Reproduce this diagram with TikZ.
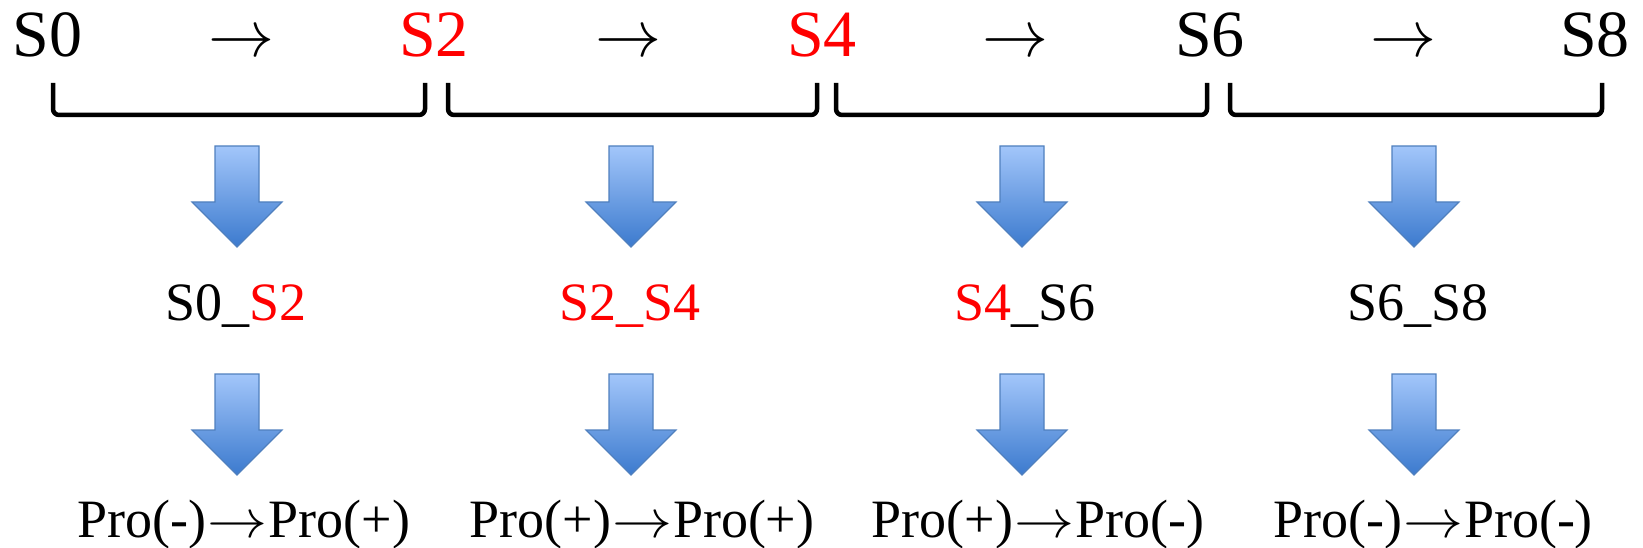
\documentclass[tikz,border=0pt]{standalone}
\usepackage{fontspec}
\setmainfont{Liberation Serif}
\definecolor{sred}{RGB}{255,0,0}
\definecolor{arrtop}{RGB}{162,198,250}
\definecolor{arrbot}{RGB}{60,122,206}
\definecolor{arrline}{RGB}{80,128,190}
\newcommand\blockdown[2]{%
  \shadedraw[blockarrow] ({#1-22},{#2}) -- ({#1+22},{#2}) -- ({#1+22},{#2+56}) -- ({#1+45},{#2+56}) -- ({#1},{#2+101}) -- ({#1-45},{#2+56}) -- ({#1-22},{#2+56}) -- cycle;}
\newcommand\toparr{\scalebox{6.6}{\fontsize{10}{12}\selectfont$\rightarrow$}}
\newcommand\parr{\kern1pt\scalebox{6}[5.4]{\fontsize{10}{12}\selectfont$\rightarrow$}\kern1pt}
\begin{document}
\begin{tikzpicture}[x=1pt,y=-1pt,
  big/.style={anchor=base,inner sep=0pt,font=\fontsize{66}{70}\selectfont},
  mid/.style={anchor=base,inner sep=0pt,font=\fontsize{54}{60}\selectfont},
  brk/.style={line width=4.5pt,rounded corners=6pt},
  blockarrow/.style={top color=arrtop,bottom color=arrbot,draw=arrline,line width=1.2pt}]
\useasboundingbox (0,0) rectangle (1643,548);
% top row
\node[big] (s0) at (47.5,57) {S0};
\node[big] (a1) at (241,57) {\toparr};
\node[big,text=sred] (s2) at (434,57) {S2};
\node[big] (a2) at (628,57) {\toparr};
\node[big,text=sred] (s4) at (822,57) {S4};
\node[big] (a3) at (1015,57) {\toparr};
\node[big] (s6) at (1210,57) {S6};
\node[big] (a4) at (1403,57) {\toparr};
\node[big] (s8) at (1595,57) {S8};
% brackets
\draw[brk] (53,83) -- (53,115) -- (425,115) -- (425,83);
\draw[brk] (448,83) -- (448,115) -- (817,115) -- (817,83);
\draw[brk] (836,83) -- (836,115) -- (1207,115) -- (1207,83);
\draw[brk] (1230,83) -- (1230,115) -- (1602,115) -- (1602,83);
% block arrows
\blockdown{237}{146}
\blockdown{631}{146}
\blockdown{1022}{146}
\blockdown{1414}{146}
\blockdown{237}{374}
\blockdown{631}{374}
\blockdown{1022}{374}
\blockdown{1414}{374}
% middle labels
\node[mid] (m1) at (236,320) {S0\_\textcolor{sred}{S2}};
\node[mid] (m2) at (630,320) {\textcolor{sred}{S2\_S4}};
\node[mid] (m3) at (1025,320) {\textcolor{sred}{S4}\_S6};
\node[mid] (m4) at (1418,320) {S6\_S8};
% bottom labels
\node[mid] (p1) at (244,537) {Pro(-)\parr Pro(+)};
\node[mid] (p2) at (642,537) {Pro(+)\parr Pro(+)};
\node[mid] (p3) at (1038,537) {Pro(+)\parr Pro(-)};
\node[mid] (p4) at (1433,537) {Pro(-)\parr Pro(-)};
\end{tikzpicture}
\end{document}
